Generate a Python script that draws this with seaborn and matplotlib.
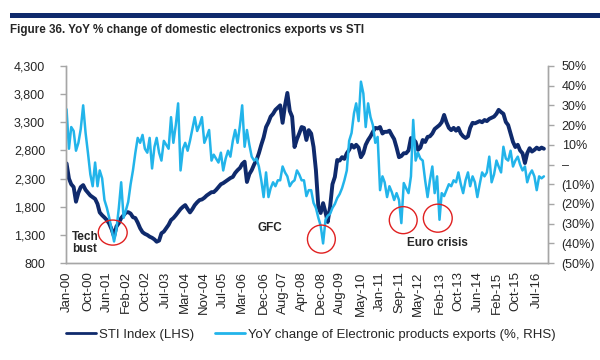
import pandas as pd
import matplotlib
matplotlib.use("Agg")
import matplotlib.pyplot as plt
import matplotlib.dates as mdates
from matplotlib.patches import Ellipse, Rectangle
from matplotlib.lines import Line2D
import seaborn as sns

sns.set_style("white")
plt.rcParams['font.family'] = ['Liberation Sans', 'DejaVu Sans']

# monthly series, Jan-2000 .. Oct-2016
months = pd.date_range("2000-01-01", "2016-10-01", freq="MS")

sti_index = [
    2570, 2300, 2200, 2150, 1890, 2050, 2150, 2185, 2100, 2050, 2000, 1970,
    1940, 1850, 1700, 1650, 1610, 1565, 1500, 1400, 1270, 1450, 1510, 1600,
    1650, 1700, 1705, 1680, 1615, 1600, 1520, 1420, 1350, 1320, 1300, 1270,
    1250, 1220, 1180, 1200, 1330, 1360, 1420, 1480, 1565, 1600, 1650, 1705,
    1760, 1800, 1830, 1760, 1700, 1760, 1830, 1880, 1920, 1930, 1960, 2000,
    2030, 2060, 2060, 2100, 2150, 2200, 2220, 2250, 2280, 2310, 2330, 2400,
    2450, 2490, 2560, 2600, 2240, 2380, 2450, 2550, 2630, 2750, 2900, 3030,
    3215, 3300, 3400, 3450, 3520, 3560, 3600, 3290, 3600, 3820, 3500, 3400,
    2860, 3000, 3100, 3215, 3200, 2985, 3160, 3100, 2860, 2450, 1800, 1690,
    1865, 1700, 1530, 1800, 2200, 2330, 2630, 2620, 2680, 2650, 2750, 2810,
    2900, 2850, 2900, 2850, 2680, 2750, 2900, 2985, 3050, 3130, 3200, 3190,
    3215, 3100, 3130, 3130, 3150, 3070, 3000, 2850, 2680, 2700, 2750, 2750,
    2800, 3020, 3000, 2950, 2810, 2850, 2985, 2950, 3040, 3050, 3100, 3180,
    3215, 3250, 3300, 3430, 3300, 3200, 3160, 3200, 3150, 3200, 3100, 3050,
    3020, 3050, 3200, 3290, 3280, 3300, 3320, 3300, 3340, 3320, 3360, 3380,
    3400, 3450, 3520, 3480, 3450, 3305, 3250, 3100, 2950, 2860, 2900, 2800,
    2750, 2576, 2750, 2840, 2780, 2810, 2850, 2820, 2850, 2830,
]

elec_yoy = [
    28, 8, 19, 17, 7, 11, 18, 30, 16, 6, -5, -11,
    1, -11, -3, -7, -18, -22, -27, -33, -39, -33, -22, -9,
    -27, -23, -19, -10, -3, 6, 13.5, 11, 15, 8, 6, 13.5,
    -2, 9, 13.5, 6, 2, 12, 10, 8, 24, 11, 20, 31,
    -3, 8, 11, 7, 12, 18, 24, 17, 20, 24, 11, 14,
    17.5, 2, 5, 3, 1, 6, -3, 3, 7, 4, 12, 17.5,
    11, 20, 30, 9, 17.5, 10, 4, 2, 3, -1, -8, -16.5,
    -4, -16.5, -12, -9, -11, -8, -8, -1, -4, -6, -11, -9,
    -8, -3, -5, -8, -8, -16, -13, -13, -19.5, -22, -27, -31,
    -40, -28, -26, -25, -22, -20, -17, -15, -12, -8, -3, 12,
    16, 26, 31, 22, 42, 36, 19, 31, 24, 20, 11, 14,
    -13, -6, -9, -16.5, -11, -14, -18, -14.5, -18, -29.7, -9.4, -12,
    -14.5, -6, 22.6, 2, 6, 3, 2, -8, -16.5, -8, -1, -14.5,
    -6, -28, -14.5, -16, -13, -10, -11, -8, -9, -4, -10, -14.5,
    -8, -4, -11, -6, -9, -16.5, -10, -4, -6, -4, 4, -9,
    -5, 2, -1, -4, 9, 3, 2, 7, -1, 2, 4, 0,
    -3, -1, -9, -5, -3, -6, -13, -6, -7, -6,
]

tick_labels = ["Jan-00", "Oct-00", "Jun-01", "Feb-02", "Oct-02", "Jul-03", "Mar-04",
               "Nov-04", "Jul-05", "Mar-06", "Dec-06", "Aug-07", "Apr-08", "Dec-08",
               "Aug-09", "May-10", "Jan-11", "Sep-11", "May-12", "Feb-13", "Oct-13",
               "Jun-14", "Feb-15", "Oct-15", "Jul-16"]

# circled troughs (date, % on RHS)
circle_dates = ["2001-08-15", "2008-12-10", "2011-10-25", "2013-01-10"]
circle_pct = [-34.5, -37.8, -28.2, -27.2]

navy = "#0f2a6c"
cyan = "#22b4ea"
grey = "#a6a6a6"

df = pd.DataFrame({"date": months, "sti": sti_index, "elec": elec_yoy})

fig = plt.figure(figsize=(6, 3.6), dpi=100)
ax = fig.add_axes([0.11, 0.269, 0.803, 0.548])
ax2 = ax.twinx()

sns.lineplot(data=df, x="date", y="sti", ax=ax, color=navy, lw=2.8)
sns.lineplot(data=df, x="date", y="elec", ax=ax2, color=cyan, lw=1.8)

ax.set_xlim(pd.Timestamp("1999-12-25"), pd.Timestamp("2016-11-20"))
ax.set_ylim(800, 4300)
ax.set_yticks(range(800, 4301, 500))
ax.set_yticklabels([f"{v:,}" for v in range(800, 4301, 500)])
ax2.set_ylim(-50, 50)
pcts = list(range(-50, 51, 10))
ax2.set_yticks(pcts)
ax2.set_yticklabels([f"({-p}%)" if p < 0 else ("\u2013" if p == 0 else f"{p}%") for p in pcts])

tick_dates = [pd.to_datetime(t, format="%b-%y") for t in tick_labels]
ax.set_xticks(tick_dates)
ax.set_xticklabels(tick_labels, rotation=90)

for a in (ax, ax2):
    a.set_xlabel("")
    a.set_ylabel("")
    a.spines["top"].set_visible(False)
    for s in ("left", "right", "bottom"):
        a.spines[s].set_color(grey)
        a.spines[s].set_linewidth(1.0)
    a.tick_params(axis="both", direction="out", length=4, color=grey, width=1)
ax.tick_params(axis="y", pad=11, labelsize=9)
ax.tick_params(axis="x", pad=2, labelsize=9.5)
ax2.tick_params(axis="y", pad=6, labelsize=9)

# red circles
for d, p, w, h in zip(circle_dates, circle_pct, [370, 357, 357, 370], [12.7, 14.2, 13.7, 14.2]):
    e = Ellipse((mdates.date2num(pd.Timestamp(d)), p), width=w, height=h,
                fill=False, ec="#e02020", lw=1.0, zorder=5)
    ax2.add_patch(e)

ax2.text(pd.Timestamp("2000-03-10"), -33.5, "Tech\nbust", fontsize=8.5, fontweight="bold",
         va="top", ha="left", linespacing=1.05)
ax2.text(pd.Timestamp("2007-02-15"), -32.2, "GFC", fontsize=8.5, fontweight="bold",
         va="center", ha="center")
ax2.text(pd.Timestamp("2013-01-01"), -39.6, "Euro crisis", fontsize=8.5, fontweight="bold",
         va="center", ha="center")

# header band + title
fig.add_artist(Rectangle((10 / 600, 1 - 17.5 / 360), 590 / 600, 5 / 360,
                         transform=fig.transFigure, color=navy, lw=0))
fig.text(10 / 600, 1 - 30 / 360, "Figure 36. YoY % change of domestic electronics exports vs STI",
         fontsize=8.4, fontweight="bold", va="center", ha="left")

handles = [Line2D([], [], color=navy, lw=2), Line2D([], [], color=cyan, lw=2)]
fig.legend(handles, ["STI Index (LHS)", "YoY change of Electronic products exports (%, RHS)"],
           loc="center", bbox_to_anchor=(0.518, 0.07), ncol=2, frameon=False, fontsize=9.5,
           handlelength=2.3, handletextpad=0.2, columnspacing=1.6)

fig.savefig("out.png", dpi=100)
